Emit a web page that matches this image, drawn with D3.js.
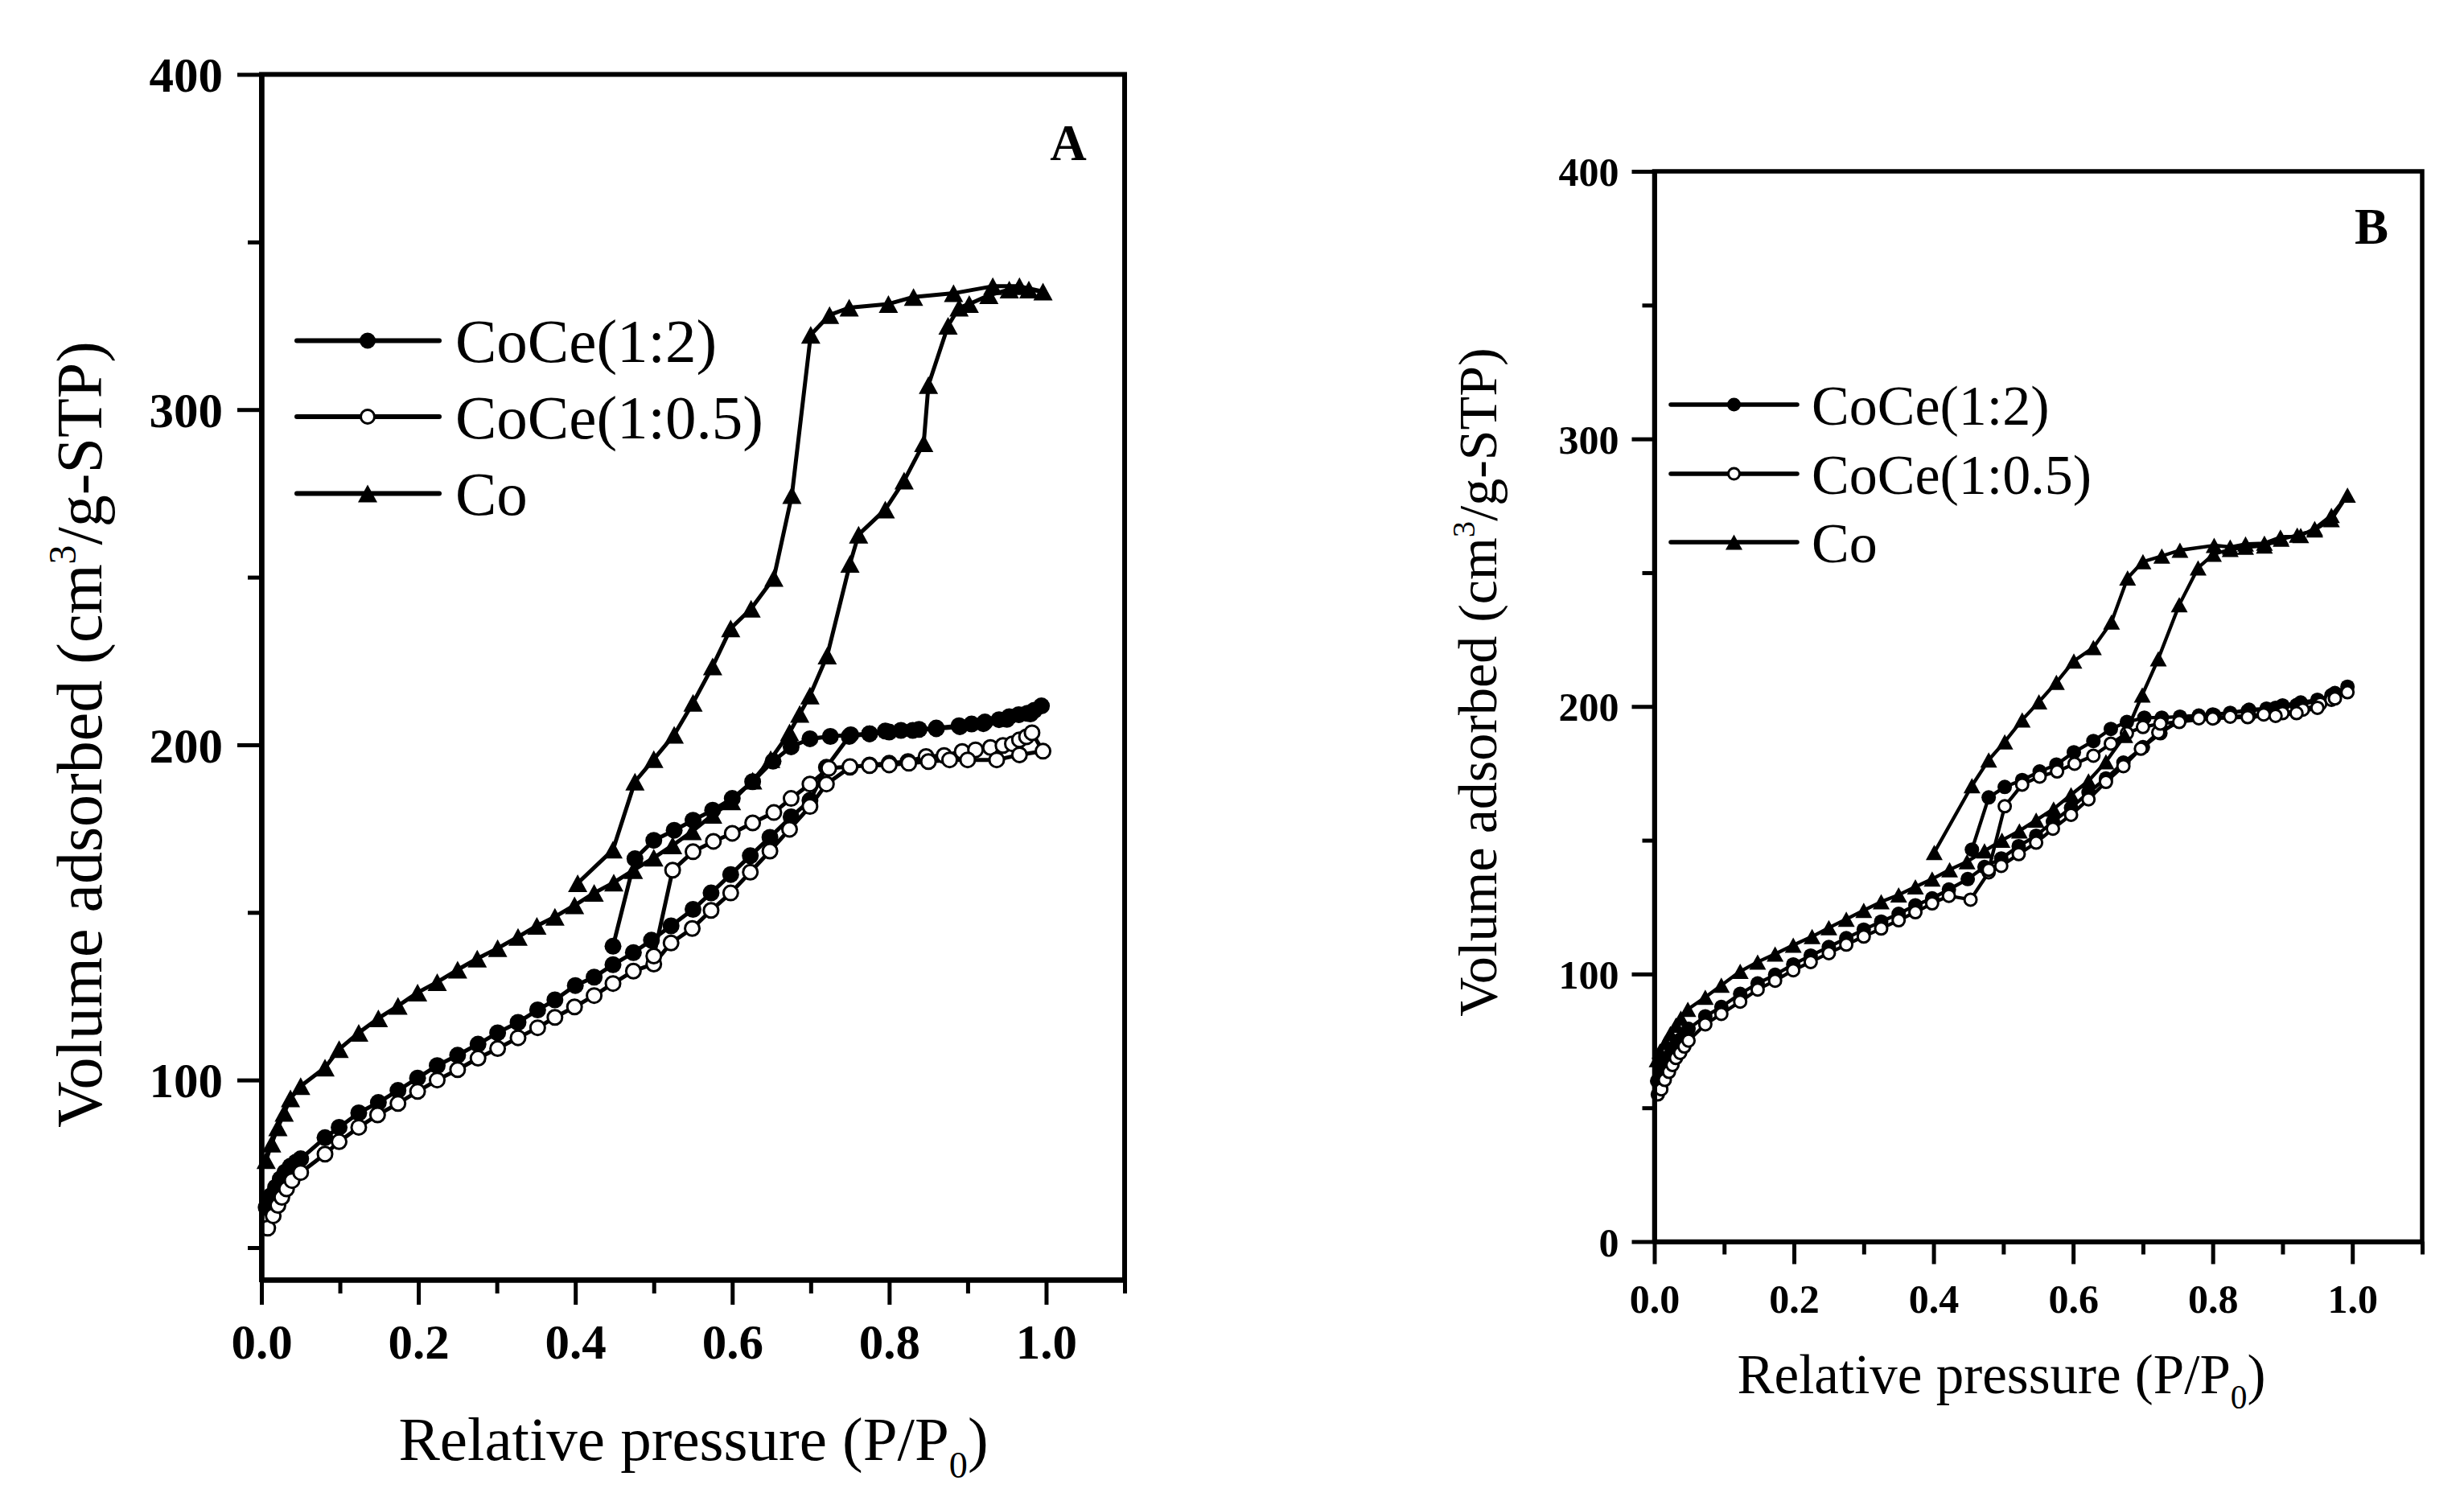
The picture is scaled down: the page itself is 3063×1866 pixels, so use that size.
<!DOCTYPE html>
<html>
<head>
<meta charset="utf-8">
<script src="https://cdn.jsdelivr.net/npm/d3@7"></script>
<style>
  html, body { margin: 0; padding: 0; background: #fff; }
  svg { display: block; }
</style>
</head>
<body>
<div id="chart"></div>
<script>
// Series names, in legend order
const seriesNames = ["CoCe(1:2)", "CoCe(1:0.5)", "Co"];

// Axis ticks
const xMajor = [0, 0.2, 0.4, 0.6, 0.8, 1.0];
const xMinor = [0.1, 0.3, 0.5, 0.7, 0.9, 1.1];
const xTickLabels = ["0.0", "0.2", "0.4", "0.6", "0.8", "1.0"];
const yMajorA = [100, 200, 300, 400];
const yMajorB = [0, 100, 200, 300, 400];
const yMinor = [50, 150, 250, 350];

// Panel A isotherms: [P/P0, volume], adsorption then desorption
const coce12A = [
  [0.006, 62], [0.012, 65.5], [0.018, 68], [0.024, 70.5], [0.030, 72.5], [0.037, 74.3], [0.044, 75.5], [0.05, 76.5],
  [0.081, 82.8], [0.099, 85.9], [0.124, 90.2], [0.149, 93.3], [0.174, 96.9], [0.199, 100.6], [0.224, 104.3],
  [0.25, 107.4], [0.276, 110.7], [0.301, 114.1], [0.327, 117.2], [0.352, 120.9], [0.374, 123.9], [0.4, 128.2],
  [0.424, 130.7], [0.448, 134.4], [0.474, 138], [0.497, 141.7], [0.522, 146], [0.55, 150.9], [0.573, 155.8],
  [0.598, 161.3], [0.623, 166.9], [0.648, 172.4], [0.675, 178.5], [0.699, 183.4], [0.72, 193.3], [0.749, 202.5],
  [0.775, 203.3], [0.795, 204.1], [0.815, 204.3], [0.838, 204.6], [0.86, 205], [0.889, 205.7], [0.905, 206.2],
  [0.922, 206.8], [0.94, 207.5], [0.953, 208.4], [0.965, 209], [0.976, 209.4], [0.985, 210.3], [0.994, 211.6],
  [0.98, 209.2], [0.95, 207.6], [0.92, 206.3], [0.89, 205.4], [0.86, 204.8], [0.83, 204.3], [0.80, 203.8],
  [0.775, 203.3], [0.751, 203], [0.725, 202.5], [0.699, 201.8], [0.675, 199.4], [0.652, 195.1], [0.626, 189],
  [0.6, 184], [0.575, 180.5], [0.55, 177.5], [0.526, 174.5], [0.5, 171.5], [0.476, 166], [0.448, 139.9]
];
const coce05A = [
  [0.008, 55.8], [0.015, 59.5], [0.021, 62.6], [0.026, 65], [0.032, 67.5], [0.039, 70], [0.05, 72.4],
  [0.081, 77.9], [0.099, 81.6], [0.124, 85.9], [0.148, 89.6], [0.174, 93], [0.199, 96.6], [0.224, 100],
  [0.25, 103.1], [0.276, 106.5], [0.301, 109.4], [0.327, 112.6], [0.352, 115.6], [0.374, 118.7], [0.399, 121.8],
  [0.424, 125.2], [0.448, 128.8], [0.474, 132.5], [0.5, 134.6], [0.522, 140.9], [0.549, 145.2], [0.573, 150.6],
  [0.598, 155.8], [0.623, 162], [0.648, 168.3], [0.673, 174.8], [0.699, 181.6], [0.72, 188.3], [0.75, 193.3],
  [0.775, 194], [0.80, 194.5], [0.824, 195], [0.847, 196.5], [0.87, 196.8], [0.893, 198], [0.91, 198.5],
  [0.929, 199.2], [0.945, 199.8], [0.957, 200.3], [0.966, 201.5], [0.975, 202.4], [0.982, 203.6], [0.996, 198.1],
  [0.966, 197], [0.937, 195.5], [0.90, 195.5], [0.877, 195.5], [0.85, 195], [0.825, 194.5], [0.80, 194],
  [0.775, 193.8], [0.75, 193.5], [0.723, 193], [0.699, 188.3], [0.675, 184], [0.653, 179.8], [0.626, 176.7],
  [0.6, 173.6], [0.576, 171.2], [0.55, 168.1], [0.524, 162.6], [0.5, 137]
];
const coA = [
  [0.006, 76.1], [0.013, 81], [0.021, 85.9], [0.029, 90.2], [0.037, 94.5], [0.05, 98.2], [0.081, 103.7],
  [0.099, 109.2], [0.124, 114.1], [0.149, 118.4], [0.174, 122.1], [0.199, 126.1], [0.224, 129.2], [0.25, 132.9],
  [0.275, 136.2], [0.301, 139.3], [0.327, 142.7], [0.351, 146], [0.374, 148.7], [0.399, 152.1], [0.424, 155.8],
  [0.449, 158.9], [0.474, 162.6], [0.5, 166.3], [0.524, 170], [0.549, 174.2], [0.575, 179.1], [0.599, 183.1],
  [0.626, 189.3], [0.649, 195.7], [0.673, 203.7], [0.686, 209.2], [0.699, 214.7], [0.721, 226.6], [0.75, 254],
  [0.761, 262.7], [0.795, 270.2], [0.819, 278.8], [0.844, 290], [0.85, 307.3], [0.875, 325], [0.889, 330.4],
  [0.902, 331.5], [0.927, 334.1], [0.953, 335.8], [0.978, 335.8], [0.996, 335.2],
  [0.966, 336.8], [0.932, 336.8], [0.882, 334.7], [0.831, 333.6], [0.799, 331.5], [0.749, 330.4], [0.724, 328.2],
  [0.7, 322.3], [0.676, 274.5], [0.653, 249.8], [0.624, 240.6], [0.598, 234.7], [0.575, 223.4], [0.55, 212.5],
  [0.526, 203], [0.5, 195.7], [0.476, 189], [0.448, 168.7], [0.403, 158.7]
];

// Panel B isotherms
const coce12B = [
  [0.004, 60], [0.008, 63], [0.013, 66], [0.019, 68.8], [0.025, 71.2], [0.031, 73.5], [0.037, 75.5], [0.043, 77.5],
  [0.049, 79.5], [0.073, 84.2], [0.096, 87.7], [0.123, 92.6], [0.148, 96.5], [0.173, 99.7], [0.199, 103.6],
  [0.224, 106.9], [0.25, 110.1], [0.275, 113.4], [0.3, 116.6], [0.325, 119.6], [0.35, 122.5], [0.374, 125.7],
  [0.398, 128.3], [0.422, 131.6], [0.449, 135.5], [0.473, 140], [0.497, 143.2], [0.522, 147.8], [0.547, 151.7],
  [0.571, 156.9], [0.597, 162.1], [0.622, 167.9], [0.647, 173.1], [0.672, 179], [0.7, 184.8], [0.725, 190],
  [0.753, 195], [0.78, 196.6], [0.802, 196.8], [0.825, 197.6], [0.852, 198.8], [0.877, 199.2], [0.9, 200.4],
  [0.926, 201.5], [0.95, 202.5], [0.97, 204.2], [0.993, 207.4],
  [0.975, 205], [0.95, 202], [0.92, 200.5], [0.89, 199.5], [0.85, 198.3], [0.80, 197], [0.753, 196.2],
  [0.727, 195.8], [0.702, 195.8], [0.677, 194.2], [0.654, 191.6], [0.629, 187.1], [0.601, 182.9], [0.576, 178.3],
  [0.552, 175.7], [0.527, 172.5], [0.502, 169.9], [0.479, 166], [0.455, 146.5]
];
const coce05B = [
  [0.005, 55], [0.01, 56.9], [0.015, 60.4], [0.021, 63.4], [0.026, 66], [0.031, 68.6], [0.037, 70.5], [0.043, 72.9],
  [0.049, 75.1], [0.073, 81.2], [0.096, 85.1], [0.123, 89.7], [0.148, 94.2], [0.173, 97.5], [0.199, 101.4],
  [0.224, 104.5], [0.25, 107.8], [0.275, 111], [0.3, 114], [0.325, 117], [0.35, 120.1], [0.374, 123.1],
  [0.398, 126.4], [0.422, 129.2], [0.453, 127.8], [0.479, 138], [0.497, 140.4], [0.522, 144.8], [0.547, 149.1],
  [0.571, 154.3], [0.597, 159.5], [0.622, 165.3], [0.647, 171.8], [0.672, 177.7], [0.697, 184.2], [0.722, 190.3],
  [0.752, 194.2], [0.78, 195.6], [0.802, 195.8], [0.825, 196.2], [0.852, 196.6], [0.873, 197], [0.9, 197.5],
  [0.929, 198.8], [0.954, 201], [0.97, 202.5], [0.993, 205.3],
  [0.975, 203], [0.95, 199.5], [0.92, 197.5], [0.89, 196.5], [0.85, 196], [0.80, 195.5], [0.725, 193.6],
  [0.7, 192.3], [0.677, 190], [0.654, 186.1], [0.629, 181.6], [0.602, 178.6], [0.577, 175.7], [0.552, 173.8],
  [0.527, 170.8], [0.502, 162.7], [0.479, 139]
];
const coB = [
  [0.004, 68], [0.008, 71.2], [0.016, 74.4], [0.023, 77.7], [0.031, 80.9], [0.038, 83.5], [0.048, 86.8],
  [0.073, 91.3], [0.096, 95.8], [0.123, 101], [0.148, 104.5], [0.173, 107.5], [0.199, 110.8], [0.226, 114],
  [0.25, 117.3], [0.275, 120.5], [0.3, 123.8], [0.325, 127], [0.35, 129.6], [0.374, 132.6], [0.398, 135.5],
  [0.423, 139], [0.448, 142], [0.473, 146], [0.498, 150], [0.523, 153.5], [0.547, 157.5], [0.572, 161.7],
  [0.597, 167], [0.622, 172.2], [0.647, 179.3], [0.674, 189.2], [0.699, 204.3], [0.722, 217.8], [0.752, 238],
  [0.779, 251.8], [0.801, 256.9], [0.825, 258.7], [0.847, 259.5], [0.874, 260], [0.898, 262.5], [0.921, 264],
  [0.946, 266], [0.97, 269.8], [0.993, 279],
  [0.97, 271.4], [0.946, 266.5], [0.926, 263.9], [0.897, 263.3], [0.874, 261], [0.847, 260.7], [0.825, 259.6],
  [0.802, 260.2], [0.753, 258.4], [0.727, 256.2], [0.7, 254.1], [0.678, 248], [0.655, 231.6], [0.629, 222],
  [0.601, 217], [0.576, 209], [0.551, 201.7], [0.527, 195], [0.502, 186.8], [0.479, 180], [0.455, 170.4],
  [0.401, 145.4]
];

const W = 3063, H = 1866;
const FONT = "'Liberation Serif', 'Times New Roman', Times, serif";
const markers = ["filled", "open", "triangle"];

const svg = d3.select("#chart").append("svg")
  .attr("width", W).attr("height", H)
  .attr("viewBox", `0 0 ${W} ${H}`);
svg.append("rect").attr("width", W).attr("height", H).attr("fill", "#fff");

const panels = [
  {
    letter: "A", series: [coce12A, coce05A, coA], yDomain: [40.4, 400], yMajor: yMajorA,
    left: 325, right: 1398, top: 92.5, bottom: 1591,
    axisW: 6, lineW: 5, r: 10.5, triW: 24, triH: 22, majorLen: 30, minorLen: 17, xMajorLen: 31, xMinorLen: 17,
    tickFont: 61, yLabelX: -48, xLabelY: 98,
    xTitle: { x: 862, y: 1815, size: 77 }, yTitle: { x: 126, y: 913, size: 80 },
    letterPos: { x: 1328, y: 199, size: 63 },
    legend: { x0: 369, x1: 546, mx: 457, rows: [423.5, 518, 613.5], tx: 566, size: 77, lw: 6, r: 10, triW: 24, triH: 22 }
  },
  {
    letter: "B", series: [coce12B, coce05B, coB], yDomain: [0, 400], yMajor: yMajorB,
    left: 2056.5, right: 3011, top: 213, bottom: 1543.5,
    axisW: 5.5, lineW: 4.3, r: 9, triW: 21, triH: 19, majorLen: 28, minorLen: 15, xMajorLen: 28, xMinorLen: 16,
    tickFont: 50, yLabelX: -44, xLabelY: 88,
    xTitle: { x: 2488, y: 1732, size: 69 }, yTitle: { x: 1860, y: 848, size: 68 },
    letterPos: { x: 2948, y: 303, size: 63 },
    legend: { x0: 2077, x1: 2234, mx: 2155.5, rows: [503, 589, 674], tx: 2252, size: 70, lw: 5.5, r: 8.5, triW: 21, triH: 19 }
  }
];

function drawMarker(sel, kind, r, w, h) {
  if (kind === "triangle") {
    sel.append("path")
      .attr("d", `M0,${-h / 2}L${w / 2},${h / 2}L${-w / 2},${h / 2}Z`)
      .attr("fill", "#000");
  } else {
    sel.append("circle")
      .attr("r", kind === "open" ? r - 1.5 : r)
      .attr("fill", kind === "open" ? "#fff" : "#000")
      .attr("stroke", "#000")
      .attr("stroke-width", kind === "open" ? 3 : 0);
  }
}

panels.forEach((p) => {
  const x = d3.scaleLinear().domain([0, 1.1]).range([p.left, p.right]);
  const y = d3.scaleLinear().domain(p.yDomain).range([p.bottom, p.top]);
  const g = svg.append("g").attr("font-family", FONT);

  // data: lines first, then markers
  const line = d3.line().x((d) => x(d[0])).y((d) => y(d[1]));
  p.series.forEach((data) => {
    g.append("path")
      .datum(data)
      .attr("d", line)
      .attr("fill", "none")
      .attr("stroke", "#000")
      .attr("stroke-width", p.lineW)
      .attr("stroke-linejoin", "round");
  });
  p.series.forEach((data, i) => {
    g.append("g").selectAll("g")
      .data(data)
      .join("g")
      .attr("transform", (d) => `translate(${x(d[0])},${y(d[1])})`)
      .each(function () { drawMarker(d3.select(this), markers[i], p.r, p.triW, p.triH); });
  });

  // frame
  g.append("rect")
    .attr("x", p.left).attr("y", p.top)
    .attr("width", p.right - p.left).attr("height", p.bottom - p.top)
    .attr("fill", "none").attr("stroke", "#000").attr("stroke-width", p.axisW);

  // x axis
  const xAxis = g.append("g").attr("transform", `translate(0,${p.bottom})`)
    .call(d3.axisBottom(x).tickValues(xMajor).tickSize(p.xMajorLen).tickSizeOuter(0)
      .tickFormat((d, i) => xTickLabels[i]));
  xAxis.append("g")
    .call(d3.axisBottom(x).tickValues(xMinor).tickSize(p.xMinorLen).tickSizeOuter(0).tickFormat(""));

  // y axis
  const yAxis = g.append("g").attr("transform", `translate(${p.left},0)`)
    .call(d3.axisLeft(y).tickValues(p.yMajor).tickSize(p.majorLen).tickSizeOuter(0).tickFormat(d3.format("d")));
  yAxis.append("g")
    .call(d3.axisLeft(y).tickValues(yMinor).tickSize(p.minorLen).tickSizeOuter(0).tickFormat(""));

  [xAxis, yAxis].forEach((a) => {
    a.selectAll(".domain").attr("stroke", "#000").attr("stroke-width", p.axisW);
    a.selectAll(".tick line").attr("stroke", "#000").attr("stroke-width", 5);
    a.selectAll("text")
      .attr("font-family", FONT).attr("font-weight", "bold")
      .attr("font-size", p.tickFont).attr("fill", "#000");
  });
  xAxis.selectAll(".tick text").attr("y", p.xLabelY).attr("dy", 0);
  yAxis.selectAll(".tick text").attr("x", p.yLabelX).attr("dy", "0.35em");

  // axis titles
  const xt = g.append("text")
    .attr("x", p.xTitle.x).attr("y", p.xTitle.y)
    .attr("text-anchor", "middle").attr("font-size", p.xTitle.size);
  xt.append("tspan").text("Relative pressure (P/P");
  xt.append("tspan").attr("font-size", p.xTitle.size * 0.6).attr("dy", p.xTitle.size * 0.28).text("0");
  xt.append("tspan").attr("dy", -p.xTitle.size * 0.28).text(")");

  const yt = g.append("text")
    .attr("transform", `translate(${p.yTitle.x},${p.yTitle.y}) rotate(-90)`)
    .attr("text-anchor", "middle").attr("font-size", p.yTitle.size);
  yt.append("tspan").text("Volume adsorbed (cm");
  yt.append("tspan").attr("font-size", p.yTitle.size * 0.6).attr("dy", -p.yTitle.size * 0.4).text("3");
  yt.append("tspan").attr("dy", p.yTitle.size * 0.4).text("/g-STP)");

  // panel letter
  g.append("text")
    .attr("x", p.letterPos.x).attr("y", p.letterPos.y)
    .attr("text-anchor", "middle").attr("font-weight", "bold")
    .attr("font-size", p.letterPos.size).text(p.letter);

  // legend
  const lg = g.append("g");
  seriesNames.forEach((name, i) => {
    const ry = p.legend.rows[i];
    lg.append("line")
      .attr("x1", p.legend.x0).attr("x2", p.legend.x1)
      .attr("y1", ry).attr("y2", ry)
      .attr("stroke", "#000").attr("stroke-width", p.legend.lw)
      .attr("stroke-linecap", "round");
    drawMarker(lg.append("g").attr("transform", `translate(${p.legend.mx},${ry})`),
      markers[i], p.legend.r, p.legend.triW, p.legend.triH);
    lg.append("text")
      .attr("x", p.legend.tx).attr("y", ry).attr("dy", "0.35em")
      .attr("font-size", p.legend.size).text(name);
  });
});
</script>
</body>
</html>
